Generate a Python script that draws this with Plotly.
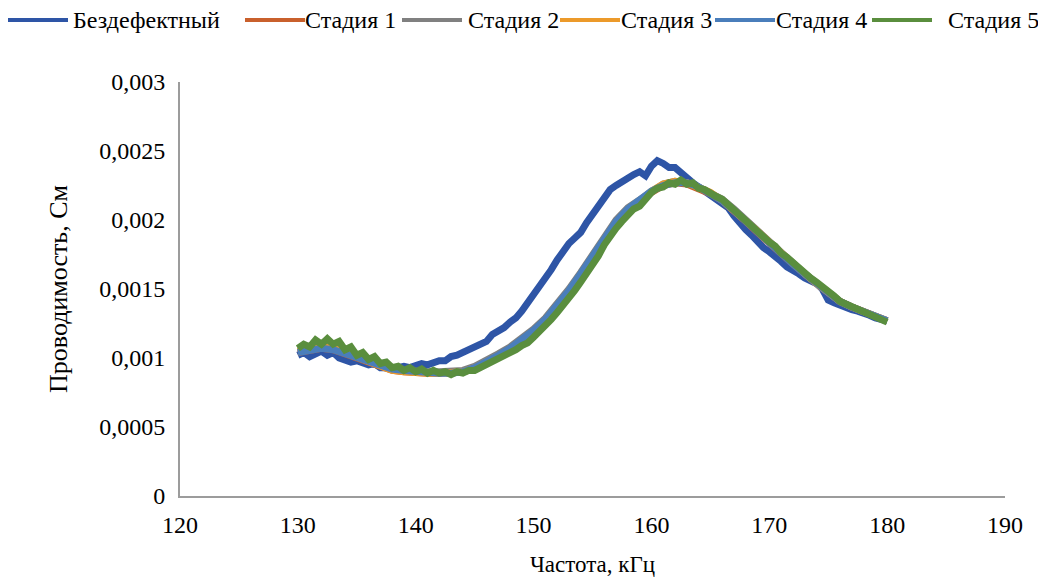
import plotly.graph_objects as go

# Frequency grids, kHz
freq_fine = [130 + 0.5 * i for i in range(101)]
freq_coarse = [130 + i for i in range(51)]

# Conductance values in mS (converted to S below)
base_ms = [1.02, 1.04, 1.01, 1.03, 1.05, 1.02, 1.04, 1.00, 0.99, 0.97,
           0.98, 0.96, 0.95, 0.96, 0.93, 0.93, 0.92, 0.93, 0.94, 0.93,
           0.95, 0.96, 0.95, 0.97, 0.98, 0.98, 1.01, 1.02, 1.04, 1.05,
           1.08, 1.10, 1.12, 1.17, 1.19, 1.22, 1.26, 1.29, 1.34, 1.40,
           1.44, 1.50, 1.58, 1.64, 1.71, 1.78, 1.83, 1.87, 1.91, 1.98,
           2.04, 2.09, 2.15, 2.22, 2.25, 2.28, 2.30, 2.33, 2.35, 2.32,
           2.39, 2.43, 2.41, 2.38, 2.38, 2.34, 2.31, 2.27, 2.24, 2.21,
           2.19, 2.16, 2.12, 2.09, 2.03, 1.97, 1.93, 1.89, 1.84, 1.80,
           1.77, 1.74, 1.70, 1.66, 1.64, 1.61, 1.58, 1.56, 1.54, 1.50,
           1.42, 1.40, 1.38, 1.37, 1.35, 1.34, 1.33, 1.31, 1.29, 1.28,
           1.27]

stage1_ms = [1.04, 1.05, 1.07, 1.06, 1.03, 1.00, 0.97, 0.94, 0.91, 0.90,
             0.89, 0.89, 0.89, 0.89, 0.90, 0.92, 0.96, 1.00, 1.05, 1.10,
             1.17, 1.25, 1.35, 1.46, 1.58, 1.70, 1.84, 1.96, 2.06, 2.13,
             2.20, 2.25, 2.27, 2.26, 2.23, 2.19, 2.14, 2.07, 1.99, 1.91,
             1.83, 1.75, 1.68, 1.61, 1.54, 1.47, 1.41, 1.37, 1.34, 1.30,
             1.27]

stage2_ms = [1.05, 1.07, 1.09, 1.08, 1.04, 1.01, 0.98, 0.95, 0.92, 0.91,
             0.90, 0.90, 0.90, 0.90, 0.91, 0.94, 0.98, 1.03, 1.08, 1.14,
             1.21, 1.29, 1.39, 1.50, 1.62, 1.75, 1.88, 2.00, 2.09, 2.15,
             2.21, 2.26, 2.28, 2.27, 2.24, 2.20, 2.15, 2.08, 2.00, 1.92,
             1.84, 1.76, 1.68, 1.61, 1.54, 1.47, 1.41, 1.37, 1.34, 1.30,
             1.27]

stage3_ms = [1.05, 1.06, 1.08, 1.07, 1.04, 1.00, 0.97, 0.94, 0.91, 0.90,
             0.89, 0.89, 0.89, 0.89, 0.90, 0.93, 0.97, 1.01, 1.06, 1.12,
             1.19, 1.27, 1.37, 1.48, 1.60, 1.72, 1.86, 1.98, 2.07, 2.14,
             2.21, 2.26, 2.28, 2.27, 2.24, 2.20, 2.14, 2.07, 2.00, 1.92,
             1.84, 1.76, 1.68, 1.61, 1.54, 1.47, 1.41, 1.37, 1.34, 1.30,
             1.27]

stage4_ms = [1.04, 1.05, 1.07, 1.06, 1.03, 1.00, 0.97, 0.94, 0.92, 0.91,
             0.90, 0.90, 0.89, 0.89, 0.90, 0.93, 0.97, 1.02, 1.07, 1.13,
             1.20, 1.28, 1.38, 1.49, 1.61, 1.73, 1.87, 1.99, 2.08, 2.14,
             2.21, 2.25, 2.27, 2.27, 2.24, 2.19, 2.14, 2.07, 1.99, 1.91,
             1.83, 1.75, 1.68, 1.61, 1.54, 1.47, 1.41, 1.37, 1.34, 1.30,
             1.27]

stage5_ms = [1.07, 1.10, 1.08, 1.13, 1.10, 1.14, 1.10, 1.12, 1.06, 1.08,
             1.02, 1.04, 0.99, 1.01, 0.96, 0.97, 0.93, 0.94, 0.91, 0.93,
             0.90, 0.92, 0.89, 0.91, 0.89, 0.90, 0.88, 0.90, 0.89, 0.91,
             0.91, 0.93, 0.95, 0.97, 0.99, 1.02, 1.04, 1.06, 1.09, 1.11,
             1.15, 1.19, 1.23, 1.28, 1.33, 1.38, 1.44, 1.49, 1.55, 1.61,
             1.68, 1.74, 1.82, 1.89, 1.94, 1.99, 2.04, 2.08, 2.10, 2.16,
             2.20, 2.23, 2.24, 2.27, 2.26, 2.29, 2.26, 2.27, 2.23, 2.22,
             2.19, 2.17, 2.15, 2.11, 2.08, 2.04, 2.00, 1.96, 1.92, 1.88,
             1.84, 1.81, 1.76, 1.73, 1.69, 1.66, 1.62, 1.58, 1.55, 1.52,
             1.48, 1.45, 1.41, 1.39, 1.37, 1.36, 1.34, 1.32, 1.30, 1.28,
             1.26]

series_names = ["Бездефектный", "Стадия 1", "Стадия 2", "Стадия 3", "Стадия 4", "Стадия 5"]
y_tickvals = [0, 0.0005, 0.001, 0.0015, 0.002, 0.0025, 0.003]
y_ticktext = ["0", "0,0005", "0,001", "0,0015", "0,002", "0,0025", "0,003"]
x_tickvals = [120, 130, 140, 150, 160, 170, 180, 190]

colors = ["#2E55A6", "#C9602C", "#808080", "#EC9A2A", "#4A7EBB", "#5A8E3E"]
data = [(freq_fine, base_ms), (freq_coarse, stage1_ms), (freq_coarse, stage2_ms),
        (freq_coarse, stage3_ms), (freq_coarse, stage4_ms), (freq_fine, stage5_ms)]

# Legend layout (page pixels): sample line start/end and label start
legend_line_px = [(8, 68), (245, 305), (402, 462), (560, 620), (715, 775), (872, 932)]
legend_text_px = [71, 303, 466, 619, 774, 946]
legend_y_px = 20

FONT = "Liberation Serif"
PLOT_L, PLOT_R, PLOT_T, PLOT_B = 180, 1005, 82, 496  # page pixels of plot area


def px_to_paper_x(px):
    return (px - PLOT_L) / (PLOT_R - PLOT_L)


def px_to_paper_y(py):
    return (PLOT_B - py) / (PLOT_B - PLOT_T)


fig = go.Figure()
for name, color, (xs, ys) in zip(series_names, colors, data):
    fig.add_trace(go.Scatter(
        x=xs, y=[v * 1e-3 for v in ys], mode="lines", name=name,
        line=dict(color=color, width=7, shape="linear"),
    ))

# Manual legend row reproducing the reference spacing
ly = px_to_paper_y(legend_y_px)
for name, color, (x0, x1), tx in zip(series_names, colors, legend_line_px, legend_text_px):
    fig.add_shape(type="line", xref="paper", yref="paper",
                  x0=px_to_paper_x(x0), x1=px_to_paper_x(x1), y0=ly, y1=ly,
                  line=dict(color=color, width=4))
    fig.add_annotation(xref="paper", yref="paper", x=px_to_paper_x(tx), y=ly,
                       text=name, showarrow=False, xanchor="left", yanchor="middle",
                       font=dict(family=FONT, size=24, color="#000000"))

# page body has an 8px margin: figure is sized/offset so the page does not overflow
fig.update_layout(
    width=1030, height=569,
    margin=dict(l=172, r=33, t=74, b=81, autoexpand=False),
    paper_bgcolor="white", plot_bgcolor="white",
    font=dict(family=FONT, size=23, color="#000000"),
    showlegend=False,
    xaxis=dict(range=[120, 190], tickvals=x_tickvals, showgrid=False, zeroline=False,
               showline=True, linecolor="#9C9C9C", linewidth=2, ticks="",
               ticklabelstandoff=6,
               tickfont=dict(family=FONT, size=24),
               title=dict(text="Частота, кГц", font=dict(family=FONT, size=23), standoff=26)),
    yaxis=dict(range=[0, 0.003], tickvals=y_tickvals, ticktext=y_ticktext, showgrid=False,
               zeroline=False, showline=True, linecolor="#9C9C9C", linewidth=2, ticks="",
               ticklabelstandoff=8,
               tickfont=dict(family=FONT, size=24),
               title=dict(text="Проводимость, См", font=dict(family=FONT, size=26), standoff=24)),
)

fig.write_html("out.html")
